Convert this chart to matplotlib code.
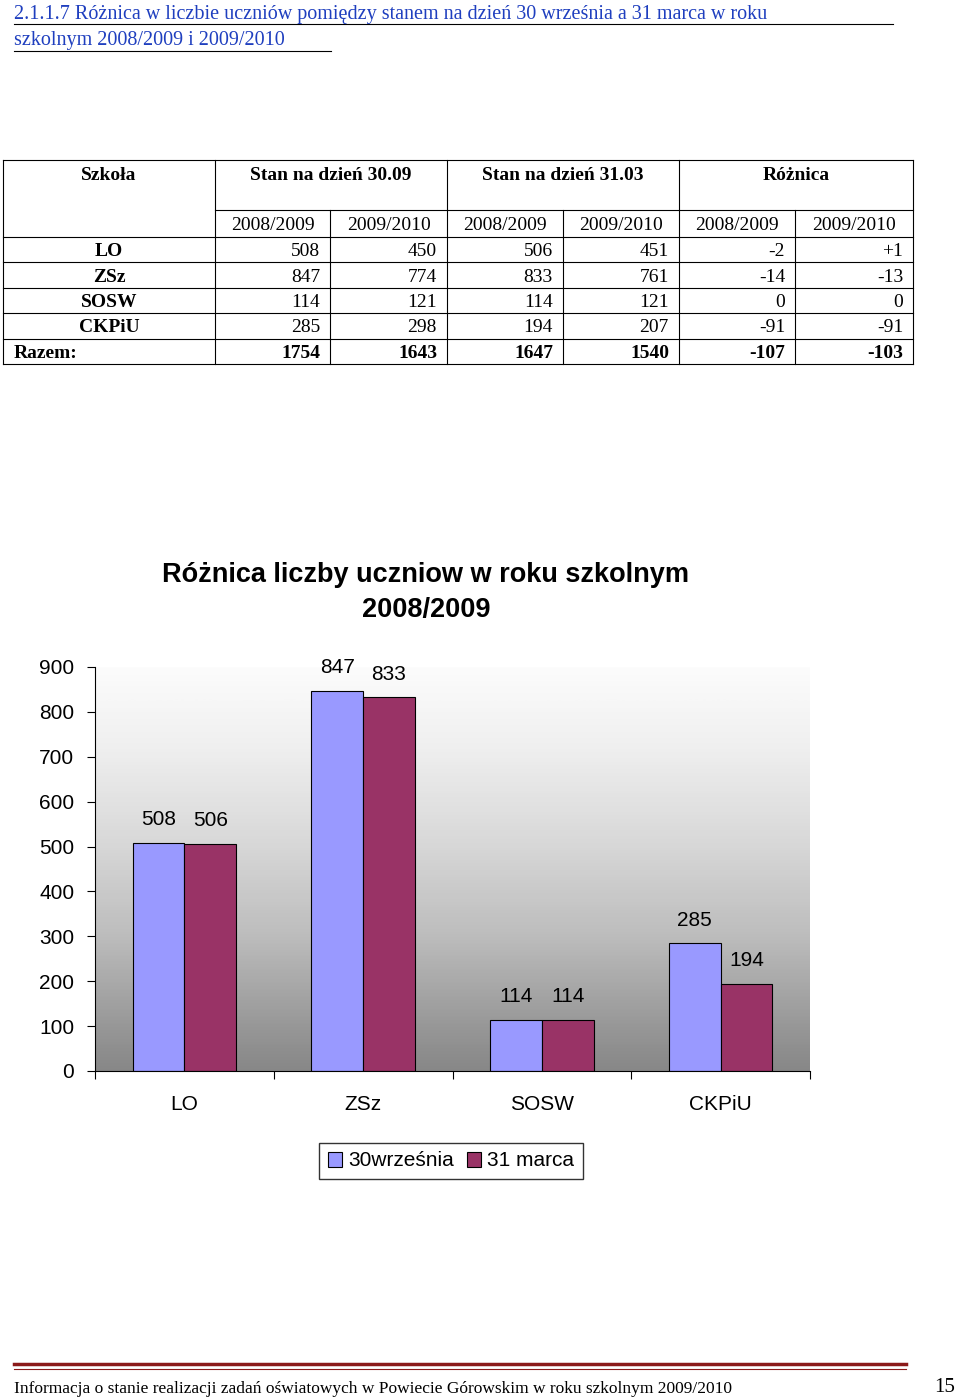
import numpy as np
import matplotlib.pyplot as plt
from matplotlib.lines import Line2D

schools = ['LO', 'ZSz', 'SOSW', 'CKPiU']
sep_0809 = [508, 847, 114, 285]
sep_0910 = [450, 774, 121, 298]
mar_0809 = [506, 833, 114, 194]
mar_0910 = [451, 761, 121, 207]
diff_0809 = ['-2', '-14', '0', '-91']
diff_0910 = ['+1', '-13', '0', '-91']
totals = ['1754', '1643', '1647', '1540', '-107', '-103']
yticks = [0, 100, 200, 300, 400, 500, 600, 700, 800, 900]

W, H = 960, 1400
fig = plt.figure(figsize=(9.6, 14), dpi=100)
serif = 'Liberation Serif'
sans = 'Liberation Sans'

def px(x, y):
    return x / W, 1 - y / H

def hline(y, x0, x1, **kw):
    fig.add_artist(Line2D([x0 / W, x1 / W], [1 - y / H] * 2, color='black', lw=kw.get('lw', 0.8), transform=fig.transFigure))

def vline(x, y0, y1):
    fig.add_artist(Line2D([x / W] * 2, [1 - y0 / H, 1 - y1 / H], color='black', lw=0.8, transform=fig.transFigure))

def txt(x, y, s, ha='center', **kw):
    fig.text(*px(x, y + 2), s, ha=ha, va='center', family=kw.pop('family', serif), fontsize=kw.pop('fontsize', 14), **kw)

# heading
txt(14, 12, '2.1.1.7 Różnica w liczbie uczniów pomiędzy stanem na dzień 30 września a 31 marca w roku', ha='left', color='#1f3fbf', fontsize=14.5)
txt(14, 39, 'szkolnym 2008/2009 i 2009/2010', ha='left', color='#1f3fbf', fontsize=14.5)
hline(24, 14, 893); hline(51, 14, 331)

# table
cols = [3, 215, 330, 447, 563, 679, 795, 913]
rows = [237, 262, 288, 313, 339, 364]
hline(160, 3, 913)
hline(210, 215, 913)
for y in rows:
    hline(y, 3, 913)
for x in [3, 215, 447, 679, 913]:
    vline(x, 160, 364)
for x in [330, 563, 795]:
    vline(x, 210, 364)
txt(109, 174, 'Szkoła', fontweight='bold')
txt(331, 174, 'Stan na dzień 30.09', fontweight='bold')
txt(563, 174, 'Stan na dzień 31.03', fontweight='bold')
txt(796, 174, 'Różnica', fontweight='bold')
for i in range(6):
    txt((cols[i + 1] + cols[i + 2]) / 2, 223, ['2008/2009', '2009/2010'][i % 2])
for r, s in enumerate(schools):
    y = (rows[r] + rows[r + 1]) / 2
    txt(109, y, s, fontweight='bold')
    vals = [sep_0809[r], sep_0910[r], mar_0809[r], mar_0910[r], diff_0809[r], diff_0910[r]]
    for i, v in enumerate(vals):
        txt(cols[i + 2] - 10, y, str(v), ha='right')
y = (rows[4] + rows[5]) / 2
txt(14, y, 'Razem:', ha='left', fontweight='bold')
for i, v in enumerate(totals):
    txt(cols[i + 2] - 10, y, v, ha='right', fontweight='bold')

# chart
ax = fig.add_axes([95 / W, (H - 1071) / H, 715 / W, 404 / H])
grad = np.linspace(0, 1, 256).reshape(-1, 1)
ax.imshow(grad, extent=[-0.5, 3.5, 0, 900], aspect='auto', cmap='Greys', vmin=-0.05, vmax=1.85, zorder=0)
x = np.arange(len(schools))
w = 0.29
b1 = ax.bar(x - w / 2, sep_0809, w, color='#9999FF', edgecolor='black', lw=0.8, label='30września', zorder=2)
b2 = ax.bar(x + w / 2, mar_0809, w, color='#993366', edgecolor='black', lw=0.8, label='31 marca', zorder=2)
for bars in (b1, b2):
    for b in bars:
        ax.text(b.get_x() + b.get_width() / 2, b.get_height() + 30, str(int(b.get_height())),
                ha='center', va='bottom', family=sans, fontsize=15)
ax.set_xlim(-0.5, 3.5)
ax.set_ylim(0, 900)
ax.set_yticks(yticks)
ax.set_yticklabels([str(t) for t in yticks], family=sans, fontsize=15)
ax.set_xticks([-0.5, 0.5, 1.5, 2.5, 3.5])
ax.set_xticklabels([])
ax.tick_params(axis='x', length=6, direction='out')
ax.tick_params(axis='y', length=6, direction='out', pad=9)
for i, s in enumerate(schools):
    ax.text(i, -75, s, ha='center', va='center', family=sans, fontsize=15)
ax.spines['top'].set_visible(False)
ax.spines['right'].set_visible(False)
fig.text(*px(426, 575), 'Różnica liczby uczniow w roku szkolnym', ha='center', va='center', family=sans, fontsize=19.5, fontweight='bold')
fig.text(*px(426, 610), '2008/2009', ha='center', va='center', family=sans, fontsize=19.5, fontweight='bold')
fig.legend(handles=[b1, b2], loc='center', bbox_to_anchor=px(451, 1161), ncol=2, frameon=True, fancybox=False,
           edgecolor='black', prop={'family': sans, 'size': 15}, handlelength=0.7, handletextpad=0.3,
           columnspacing=0.6, borderpad=0.4)

# footer
fig.add_artist(Line2D([14 / W, 906 / W], [1 - 1364 / H] * 2, color='#8b1a1a', lw=2.5, transform=fig.transFigure))
fig.add_artist(Line2D([14 / W, 906 / W], [1 - 1369 / H] * 2, color='#8b1a1a', lw=0.8, transform=fig.transFigure))
txt(14, 1387, 'Informacja o stanie realizacji zadań oświatowych w Powiecie Górowskim w roku szkolnym 2009/2010', ha='left', fontsize=12.5)
txt(945, 1386, '15', fontsize=15)

fig.savefig('out.png', dpi=100)
